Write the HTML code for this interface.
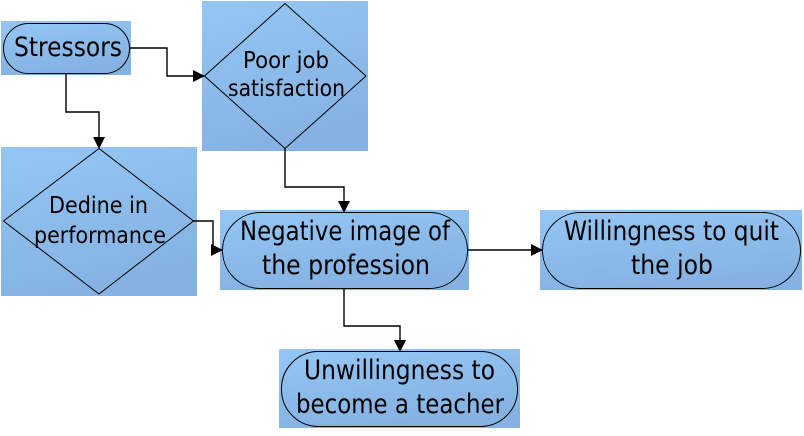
<!DOCTYPE html>
<html><head><style>
body{margin:0;background:#fff;width:804px;height:431px;overflow:hidden}
</style></head><body>
<svg width="804" height="431" xmlns="http://www.w3.org/2000/svg" font-family="DejaVu Sans, sans-serif">
<defs>
<linearGradient id="g" x1="0" y1="0" x2="0.3" y2="1">
<stop offset="0" stop-color="#94c6f4"/><stop offset="1" stop-color="#85b2e2"/></linearGradient>
<marker id="a" markerWidth="12" markerHeight="12" refX="11" refY="6" orient="auto" markerUnits="userSpaceOnUse">
<path d="M0,0 L12,6 L0,12 z" fill="#000"/></marker>
</defs>
<g fill="url(#g)">
<rect x="1" y="21" width="130" height="54"/>
<rect x="202" y="1" width="166" height="150"/>
<rect x="1" y="147" width="196" height="149"/>
<rect x="220" y="210" width="249" height="80"/>
<rect x="540" y="210" width="262" height="80"/>
<rect x="279" y="349" width="241" height="79"/>
</g>
<g fill="none" stroke="#000" stroke-width="1">
<rect x="3.5" y="23.5" width="126" height="50" rx="25"/>
<polygon points="204.5,76 285,3.5 366,76 285,148.5"/>
<polygon points="3.5,221 99,148.5 193.5,221 99,294"/>
<rect x="222.5" y="212.5" width="245" height="76" rx="38"/>
<rect x="542.5" y="212.5" width="258" height="76" rx="38"/>
<rect x="281.5" y="351.5" width="236" height="75" rx="37"/>
</g>
<g fill="none" stroke="#000" stroke-width="1.4" marker-end="url(#a)">
<polyline points="129,48 167,48 167,76 204,76"/>
<polyline points="66,73 66,112 99,112 99,148"/>
<polyline points="285,148 285,187 344,187 344,212"/>
<polyline points="193,221 213,221 213,250 222,250"/>
<polyline points="467,250 542,250"/>
<polyline points="344,288 344,326 400,326 400,351"/>
</g>
<g fill="#000">
<text x="14" y="56" font-size="27" textLength="108" lengthAdjust="spacingAndGlyphs">Stressors</text>
<text x="243" y="68" font-size="23" textLength="86" lengthAdjust="spacingAndGlyphs">Poor job</text>
<text x="228" y="96" font-size="23" textLength="117" lengthAdjust="spacingAndGlyphs">satisfaction</text>
<text x="49" y="213" font-size="23" textLength="99" lengthAdjust="spacingAndGlyphs">Dedine in</text>
<text x="34" y="243" font-size="23" textLength="132" lengthAdjust="spacingAndGlyphs">performance</text>
<text x="240" y="240" font-size="27" textLength="210" lengthAdjust="spacingAndGlyphs">Negative image of</text>
<text x="262" y="274" font-size="27" textLength="168" lengthAdjust="spacingAndGlyphs">the profession</text>
<text x="564" y="240" font-size="27" textLength="215" lengthAdjust="spacingAndGlyphs">Willingness to quit</text>
<text x="631" y="274" font-size="27" textLength="82" lengthAdjust="spacingAndGlyphs">the job</text>
<text x="304" y="379" font-size="27" textLength="191" lengthAdjust="spacingAndGlyphs">Unwillingness to</text>
<text x="296" y="413" font-size="27" textLength="208" lengthAdjust="spacingAndGlyphs">become a teacher</text>
</g>
</svg>
</body></html>
